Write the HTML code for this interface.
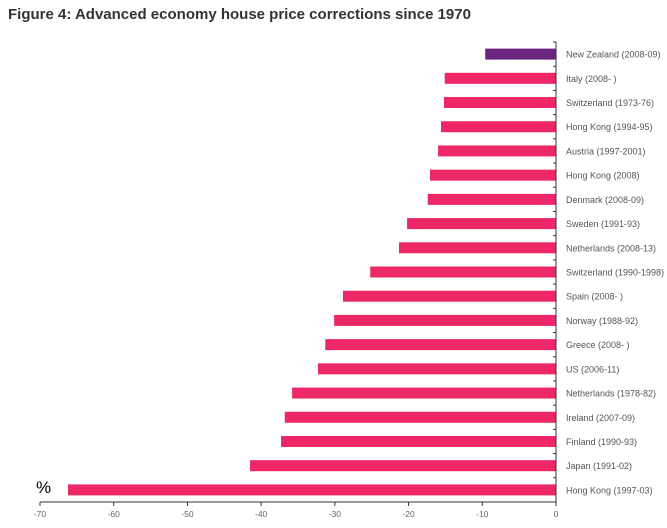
<!DOCTYPE html>
<html><head><meta charset="utf-8"><style>
body{margin:0;background:#fff;width:667px;height:523px;overflow:hidden;font-family:"Liberation Sans",sans-serif}
</style></head><body>
<svg width="667" height="523">
<text x="8" y="19" font-size="15" font-weight="bold" fill="#333">Figure 4: Advanced economy house price corrections since 1970</text>
<g id="plot"></g>
<text x="36" y="493" font-size="17" fill="#000">%</text>
</svg>
<script>
const categories=["New Zealand (2008-09)","Italy (2008- )","Switzerland (1973-76)","Hong Kong (1994-95)","Austria (1997-2001)","Hong Kong (2008)","Denmark (2008-09)","Sweden (1991-93)","Netherlands (2008-13)","Switzerland (1990-1998)","Spain (2008- )","Norway (1988-92)","Greece (2008- )","US (2006-11)","Netherlands (1978-82)","Ireland (2007-09)","Finland (1990-93)","Japan (1991-02)","Hong Kong (1997-03)"];
const values=[-9.6,-15.1,-15.2,-15.6,-16.0,-17.1,-17.4,-20.2,-21.3,-25.2,-28.9,-30.1,-31.3,-32.3,-35.8,-36.8,-37.3,-41.5,-66.2];
const xTicks=[-70,-60,-50,-40,-30,-20,-10,0];
const NS="http://www.w3.org/2000/svg";
const g=document.getElementById('plot');
const x0=40,x1=556,yTop=42,yBot=502;
const xs=v=>x0+(v-(-70))/70*(x1-x0);
const step=(yBot-yTop)/categories.length;
const yc=i=>yTop+step*(i+0.5);
function mk(t,a){const e=document.createElementNS(NS,t);for(const k in a)e.setAttribute(k,a[k]);g.appendChild(e);return e;}
categories.forEach((c,i)=>{
  const r=mk('rect',{x:xs(values[i]),y:yc(i)-5.5,width:xs(0)-xs(values[i]),height:11,fill:i===0?'#6a2580':'#ee2766'});
  
  
  const t=mk('text',{x:566,y:yc(i)+3.5,'font-size':'9',fill:'#555'});
  t.textContent=c;
  
  
  const tk=mk('line',{x1:x1-3,x2:x1,y1:yTop+step*i,y2:yTop+step*i,stroke:'#333','stroke-width':1});
  
  
});
const ya=mk('line',{x1:x1,x2:x1,y1:yTop,y2:yBot,stroke:'#333','stroke-width':1});


const xa=mk('line',{x1:x0,x2:x1,y1:yBot,y2:yBot,stroke:'#333','stroke-width':1});


xTicks.forEach(v=>{
  const l=mk('line',{x1:xs(v),x2:xs(v),y1:yBot,y2:yBot+4,stroke:'#333','stroke-width':1});
  
  
  const t=mk('text',{x:xs(v),y:yBot+15,'font-size':'8.5',fill:'#666','text-anchor':'middle'});
  t.textContent=v;
  
  
});
</script>
</body></html>
